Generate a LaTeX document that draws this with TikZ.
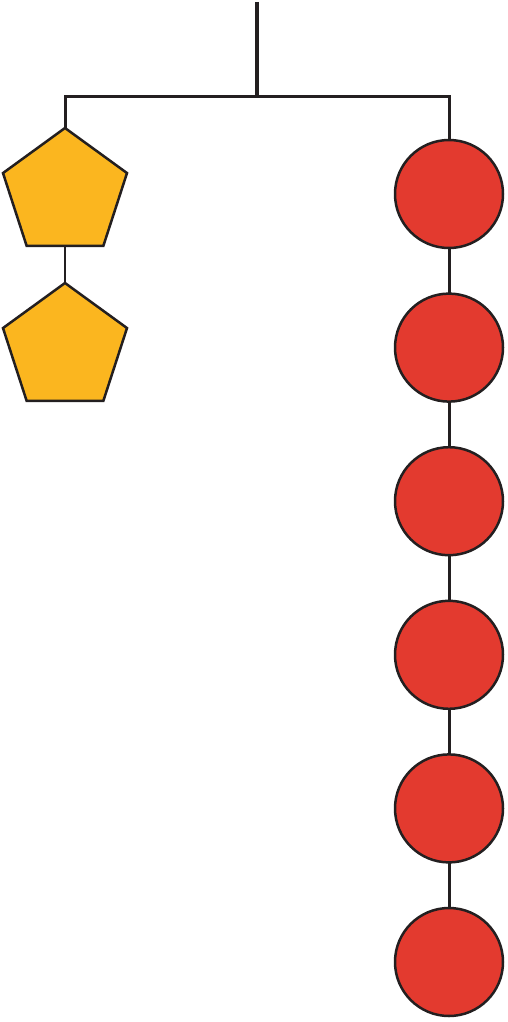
\documentclass[tikz,border=0pt]{standalone}
\usetikzlibrary{shapes.geometric}
\definecolor{ink}{HTML}{231F20}
\definecolor{gold}{HTML}{FBB61F}
\definecolor{redc}{HTML}{E33A2F}
\begin{document}
\begin{tikzpicture}[x=1pt,y=-1pt,
  pent/.style={regular polygon,regular polygon sides=5,minimum size=130.4pt,inner sep=0pt,outer sep=0pt,fill=gold,draw=ink,line width=2.5pt,line join=miter},
  ball/.style={circle,minimum size=108pt,inner sep=0pt,outer sep=0pt,fill=redc,draw=ink,line width=2.5pt},
  link/.style={draw=ink,line width=3pt,line join=miter}]
\useasboundingbox (0,0) rectangle (507,1022);
\node[pent] (p1) at (65,193.2) {};
\node[pent] (p2) at (65,348.2) {};
\foreach \i/\y in {1/194,2/347.6,3/501.2,4/654.8,5/808.4,6/962}{
  \node[ball] (c\i) at (449,\y) {};
}
\coordinate (top) at (257,2);
\coordinate (mid) at (257,97);
\coordinate (hl) at (65,97);
\coordinate (hr) at (449,97);
\draw[link,line width=4pt] (top) -- (mid);
\draw[link] (p1.corner 1) -- (hl) -- (hr) -- (c1.north);
\draw[link,line width=2.5pt] (p1.south) -- (p2.corner 1);
\foreach \a/\b in {1/2,2/3,3/4,4/5,5/6}{
  \draw[link,line width=3pt] (c\a.south) -- (c\b.north);
}
\end{tikzpicture}
\end{document}
